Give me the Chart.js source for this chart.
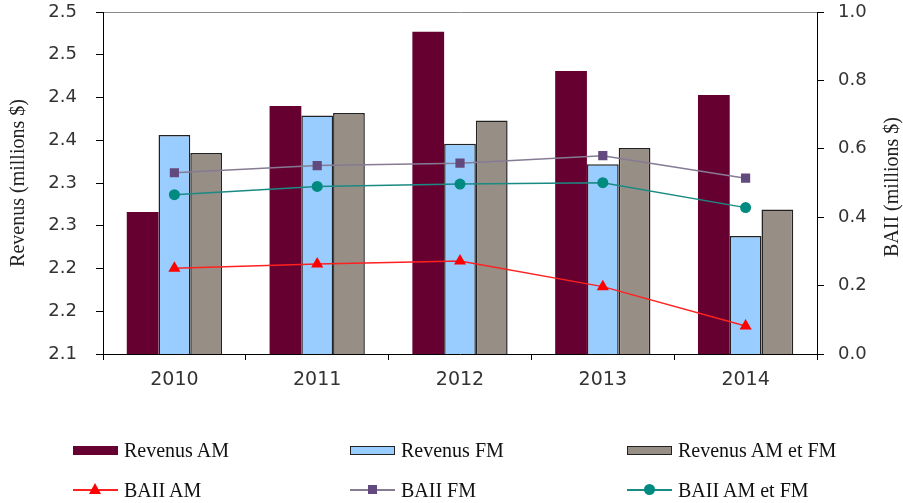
<!DOCTYPE html>
<html>
<head>
<meta charset="utf-8">
<script src="https://cdn.jsdelivr.net/npm/chart.js@4"></script>
<style>
  body { margin: 0; background: #fff; }
  #wrap { position: relative; width: 903px; height: 503px; }
  #legend { position: absolute; left: 0; top: 0; width: 903px; height: 503px; pointer-events: none;
    font-family: "Liberation Serif", serif; font-size: 20px; color: #111; }
  .item { position: absolute; height: 24px; display: flex; align-items: center; }
  .sw { position: relative; width: 45px; height: 24px; margin-right: 6px; }
  .box { position: absolute; left: 0; top: 8px; width: 43px; height: 7px; }
  .ln { position: absolute; left: 0; top: 11px; width: 45px; height: 2px; }
  .mk { position: absolute; }
</style>
</head>
<body>
<div id="wrap">
  <canvas id="chart" width="903" height="503"></canvas>
  <div id="legend"></div>
</div>
<script>
const years = ['2010', '2011', '2012', '2013', '2014'];
const revenusAM = [2.266, 2.390, 2.477, 2.431, 2.403];
const revenusFM = [2.356, 2.379, 2.346, 2.322, 2.238];
const revenusAMFM = [2.335, 2.382, 2.373, 2.341, 2.269];
const baiiAM = [0.251, 0.263, 0.272, 0.197, 0.082];
const baiiFM = [0.530, 0.551, 0.558, 0.580, 0.514];
const baiiAMFM = [0.466, 0.490, 0.497, 0.501, 0.428];
const leftTicks = ['2.1', '2.2', '2.2', '2.3', '2.3', '2.4', '2.4', '2.5', '2.5'];

const tickFont = { family: '"DejaVu Sans", sans-serif', size: 18 };

// right axis title reads bottom-to-top in the original, so draw it by hand
const rightTitle = {
    id: 'rightTitle',
    afterDraw(chart) {
        const c = chart.ctx;
        const area = chart.chartArea;
        c.save();
        c.translate(893, (area.top + area.bottom) / 2 + 4);
        c.rotate(-Math.PI / 2);
        c.textAlign = 'center';
        c.textBaseline = 'middle';
        c.fillStyle = '#222';
        c.font = '20px "Liberation Serif", serif';
        c.fillText('BAII (millions $)', 0, 0);
        c.restore();
    }
};

function fixY(width) {
    return s => {
        s.width = width;
        s.paddingTop = 0;
        s.paddingBottom = 0;
    };
}

const ctx = document.getElementById('chart').getContext('2d');
const chart = new Chart(ctx, {
    type: 'bar',
    data: {
        labels: years,
        datasets: [
            { type: 'line', label: 'BAII AM', data: baiiAM, yAxisID: 'y1', order: 0,
              borderColor: '#ff2020', borderWidth: 1.5, backgroundColor: '#ff0000',
              pointStyle: 'triangle', pointRadius: 7, pointBorderWidth: 0, pointBackgroundColor: '#ff0000' },
            { type: 'line', label: 'BAII FM', data: baiiFM, yAxisID: 'y1', order: 0,
              borderColor: '#857b93', borderWidth: 1.5, backgroundColor: '#634a7e',
              pointStyle: 'rect', pointRadius: 6.5, pointBorderWidth: 0, pointBackgroundColor: '#634a7e' },
            { type: 'line', label: 'BAII AM et FM', data: baiiAMFM, yAxisID: 'y1', order: 0,
              borderColor: '#1a8a84', borderWidth: 1.5, backgroundColor: '#008a80',
              pointStyle: 'circle', pointRadius: 5.5, pointBorderWidth: 0, pointBackgroundColor: '#008a80' },
            { label: 'Revenus AM', data: revenusAM, yAxisID: 'y', order: 1,
              backgroundColor: '#660030', borderColor: '#660030', borderWidth: 0 },
            { label: 'Revenus FM', data: revenusFM, yAxisID: 'y', order: 1,
              backgroundColor: '#99ccff', borderColor: '#222', borderWidth: 1.5 },
            { label: 'Revenus AM et FM', data: revenusAMFM, yAxisID: 'y', order: 1,
              backgroundColor: '#978e85', borderColor: '#222', borderWidth: 1.5 }
        ]
    },
    options: {
        responsive: false,
        animation: false,
        devicePixelRatio: 1,
        categoryPercentage: 0.667,
        barPercentage: 1.0,
        layout: { padding: { left: 0, right: 0, top: 12, bottom: 109 } },
        plugins: { legend: { display: false }, tooltip: { enabled: false } },
        scales: {
            x: {
                grid: { offset: true, drawOnChartArea: false, drawTicks: true, tickLength: 6, color: '#000' },
                border: { color: '#000', width: 1 },
                ticks: { font: { family: '"DejaVu Sans", sans-serif', size: 19 }, color: '#333', padding: 9 },
                afterFit: s => { s.height = 40; s.paddingLeft = 0; s.paddingRight = 0; }
            },
            y: {
                position: 'left',
                min: 2.1, max: 2.5,
                ticks: { count: 9, font: tickFont, color: '#333', padding: 19,
                         callback: (v, i) => leftTicks[i] },
                grid: {
                    drawTicks: true, tickLength: 7, tickColor: '#000',
                    color: c => c.index === 8 ? '#8a8a8a' : 'rgba(0,0,0,0)'
                },
                border: { color: '#000', width: 1 },
                title: { display: true, text: 'Revenus (millions $)', color: '#222',
                         font: { family: '"Liberation Serif", serif', size: 20 },
                         padding: { top: 7, bottom: 0 } },
                afterFit: fixY(103)
            },
            y1: {
                position: 'right',
                min: 0, max: 1,
                ticks: { stepSize: 0.2, font: tickFont, color: '#333', padding: 14,
                         callback: v => v.toFixed(1) },
                grid: { drawOnChartArea: false, drawTicks: true, tickLength: 7, color: '#000' },
                border: { color: '#000', width: 1 },
                afterFit: fixY(86)
            }
        }
    },
    plugins: [rightTitle]
});

// legend in a 3 x 2 grid like the original
const legendSlots = [
    { ds: 3, x: 73, y: 438 }, { ds: 4, x: 350, y: 438 }, { ds: 5, x: 627, y: 438 },
    { ds: 0, x: 73, y: 478 }, { ds: 1, x: 350, y: 478 }, { ds: 2, x: 627, y: 478 }
];
const legendEl = document.getElementById('legend');
legendSlots.forEach(slot => {
    const d = chart.data.datasets[slot.ds];
    const item = document.createElement('div');
    item.className = 'item';
    item.style.left = slot.x + 'px';
    item.style.top = slot.y + 'px';
    const sw = document.createElement('div');
    sw.className = 'sw';
    if (d.type === 'line') {
        const ln = document.createElement('div');
        ln.className = 'ln';
        ln.style.background = d.borderColor;
        sw.appendChild(ln);
        const mk = document.createElement('div');
        mk.className = 'mk';
        if (d.pointStyle === 'triangle') {
            mk.style.left = '16px'; mk.style.top = '5px';
            mk.style.width = '0'; mk.style.height = '0';
            mk.style.borderLeft = '6px solid transparent';
            mk.style.borderRight = '6px solid transparent';
            mk.style.borderBottom = '11px solid ' + d.pointBackgroundColor;
        } else if (d.pointStyle === 'rect') {
            mk.style.left = '18px'; mk.style.top = '7px';
            mk.style.width = '9px'; mk.style.height = '9px';
            mk.style.background = d.pointBackgroundColor;
        } else {
            mk.style.left = '17px'; mk.style.top = '6px';
            mk.style.width = '11px'; mk.style.height = '11px';
            mk.style.borderRadius = '50%';
            mk.style.background = d.pointBackgroundColor;
        }
        sw.appendChild(mk);
    } else {
        const box = document.createElement('div');
        box.className = 'box';
        box.style.background = d.backgroundColor;
        box.style.border = d.borderWidth ? '1px solid #222' : '1px solid ' + d.backgroundColor;
        sw.appendChild(box);
    }
    item.appendChild(sw);
    const txt = document.createElement('span');
    txt.textContent = d.label;
    item.appendChild(txt);
    legendEl.appendChild(item);
});
</script>
</body>
</html>
